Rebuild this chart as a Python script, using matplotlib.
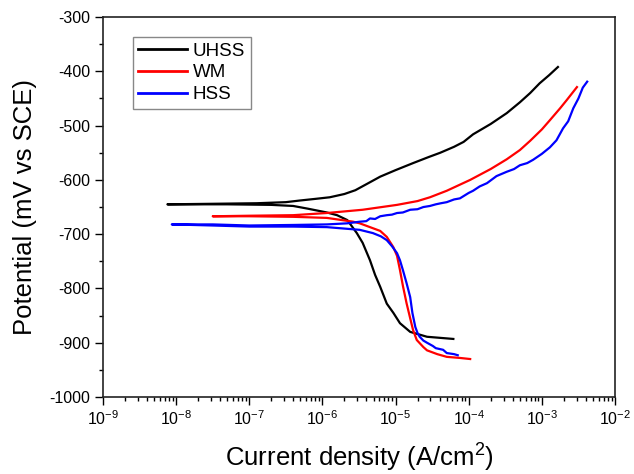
import numpy as np
import matplotlib
matplotlib.use("Agg")
import matplotlib.pyplot as plt
from matplotlib.ticker import LogLocator, MultipleLocator, NullFormatter

# Curvas de Tafel: log10 de densidad de corriente (A/cm2) y potencial (mV vs SCE)
# Orden: extremo catódico -> potencial de corrosión -> extremo anódico
uhss_log_i = [-4.21, -4.57, -4.80, -4.94, -5.03, -5.12, -5.21, -5.28, -5.35, -5.45,
              -5.53, -5.60, -5.66, -5.80, -5.94, -6.20, -6.40, -6.70, -7.30, -8.12,
              -7.50, -6.90, -6.50, -6.31, -6.10, -5.90, -5.70, -5.55, -5.40, -5.21,
              -5.00, -4.76, -4.55, -4.39, -4.20, -4.07, -3.94, -3.70, -3.48, -3.30,
              -3.16, -3.03, -2.90, -2.78]
uhss_E = [-893, -889, -880, -864, -845, -828, -797, -775, -748, -716,
          -698, -685, -674, -665, -660, -653, -648, -646, -645, -645,
          -644, -643, -641, -638, -635, -632, -626, -619, -608, -594,
          -582, -569, -558, -550, -539, -530, -516, -497, -477, -457,
          -440, -422, -407, -392]

wm_log_i = [-3.98, -4.12, -4.30, -4.43, -4.57, -4.62, -4.71, -4.76, -4.80, -4.85,
            -4.90, -4.94, -4.98, -5.03, -5.12, -5.21, -5.35, -5.49, -5.58, -5.94,
            -6.40, -7.00, -7.50,
            -7.00, -6.40, -5.94, -5.45, -4.98, -4.70, -4.53, -4.30, -3.98, -3.70,
            -3.48, -3.30, -3.16, -3.00, -2.89, -2.75, -2.66, -2.52]
wm_E = [-930, -928, -926, -921, -914, -908, -895, -877, -855, -827,
        -795, -766, -740, -724, -705, -694, -687, -680, -677, -670,
        -668, -667, -667,
        -666, -665, -661, -655, -646, -639, -632, -620, -600, -580,
        -562, -545, -528, -507, -490, -468, -453, -429]

hss_log_i = [-4.15, -4.20, -4.30, -4.35, -4.45, -4.49, -4.57, -4.62, -4.67, -4.70,
             -4.73, -4.77, -4.80, -4.85, -4.90, -4.94, -4.98, -5.05, -5.12, -5.20,
             -5.31, -5.49, -5.94, -6.40, -7.00, -7.50, -8.06,
             -7.50, -7.00, -6.40, -5.94, -5.66, -5.49, -5.40, -5.35, -5.28, -5.21,
             -5.12, -5.05, -4.98, -4.90, -4.80, -4.70, -4.62, -4.53, -4.45, -4.38,
             -4.30, -4.20, -4.12, -4.00, -3.94, -3.85, -3.75, -3.62, -3.48, -3.38,
             -3.30, -3.20, -3.12, -3.00, -2.89, -2.80, -2.71, -2.64, -2.57, -2.50,
             -2.44, -2.38]
hss_E = [-923, -921, -919, -913, -910, -906, -900, -896, -889, -882,
         -871, -845, -816, -790, -766, -748, -735, -722, -711, -704,
         -698, -692, -687, -686, -686, -684, -682,
         -682, -684, -683, -682, -680, -677, -676, -671, -672, -667,
         -665, -664, -661, -660, -655, -654, -650, -648, -645, -643,
         -641, -636, -634, -624, -620, -612, -606, -593, -585, -580,
         -573, -569, -563, -552, -540, -527, -505, -492, -468, -450,
         -430, -419]

series = [("UHSS", uhss_log_i, uhss_E, "#000000"),
          ("WM", wm_log_i, wm_E, "#ff0000"),
          ("HSS", hss_log_i, hss_E, "#0000ff")]

plt.rcParams["font.family"] = ["Liberation Sans", "DejaVu Sans"]
plt.rcParams["mathtext.default"] = "regular"
plt.rcParams["axes.unicode_minus"] = False

fig = plt.figure(figsize=(6.34, 4.74), dpi=100)
ax = fig.add_axes([0.1625, 0.1624, 0.8075, 0.8016])

for nombre, log_i, E, color in series:
    ax.plot(10.0 ** np.array(log_i), E, color=color, lw=1.6, label=nombre)

ax.set_xscale("log")
ax.set_xlim(1e-9, 1e-2)
ax.set_ylim(-1000, -300)
ax.xaxis.set_major_locator(LogLocator(base=10, numticks=20))
ax.xaxis.set_minor_locator(LogLocator(base=10, subs=np.arange(2, 10), numticks=20))
ax.xaxis.set_minor_formatter(NullFormatter())
ax.yaxis.set_major_locator(MultipleLocator(100))
ax.yaxis.set_minor_locator(MultipleLocator(50))

ax.tick_params(which="both", direction="out", top=False, right=False, labelsize=11.5)
ax.tick_params(which="major", length=5.5, width=1.0)
ax.tick_params(which="minor", length=3, width=1.0)
for s in ax.spines.values():
    s.set_linewidth(1.2)
    s.set_color("#222222")

ax.set_xlabel("Current density (A/cm$^2$)", fontsize=18.5, labelpad=10)
ax.set_ylabel("Potential (mV vs SCE)", fontsize=18.5, labelpad=9)

ley = ax.legend(loc="upper left", bbox_to_anchor=(0.058, 0.948), borderaxespad=0,
                fontsize=13.5, fancybox=False, edgecolor="#888888", framealpha=1,
                handlelength=2.6, handletextpad=0.3, labelspacing=0.25, borderpad=0.3)
ley.get_frame().set_linewidth(1.0)
for linea in ley.get_lines():
    linea.set_linewidth(2.0)

fig.savefig("out.png", dpi=100)
